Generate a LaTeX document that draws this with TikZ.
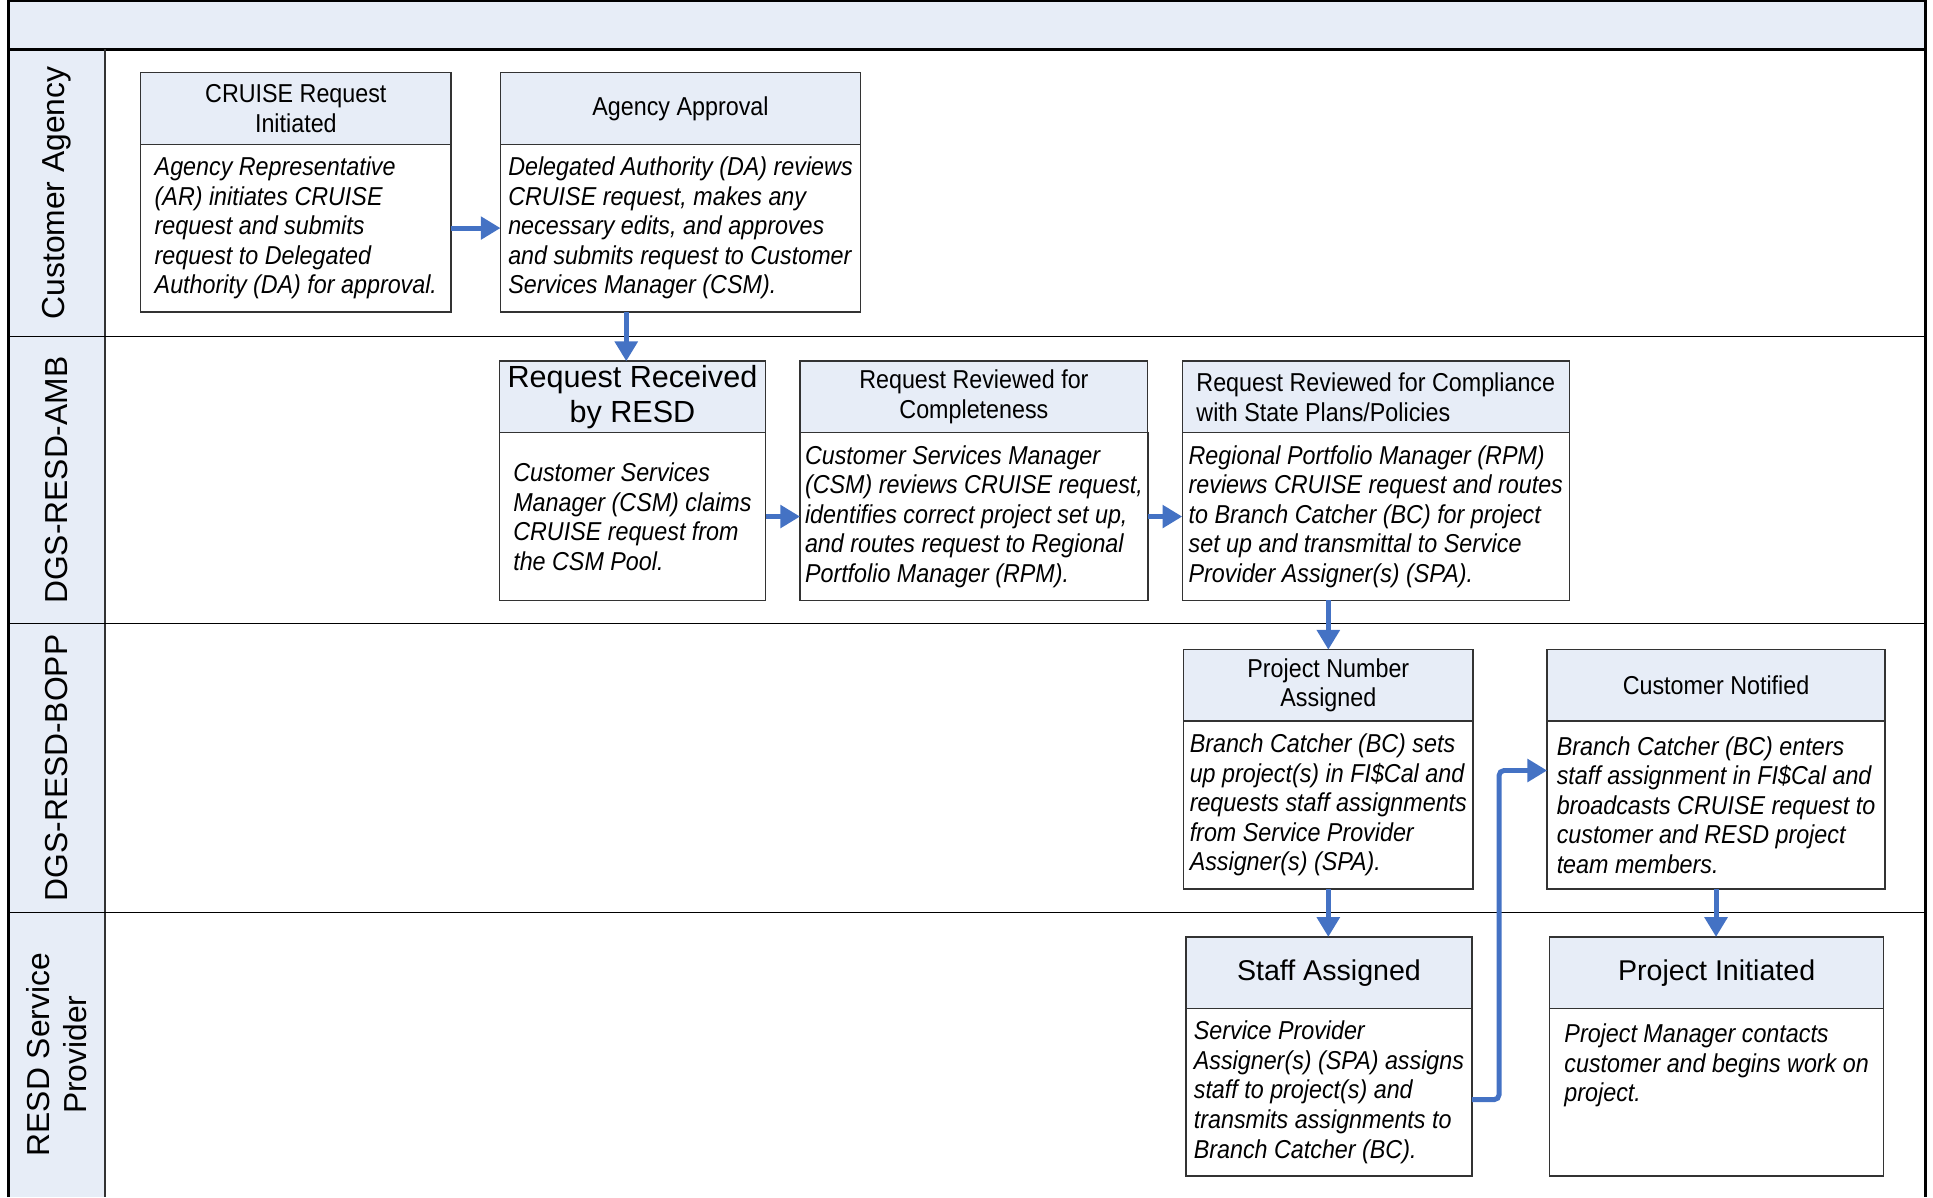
\documentclass[tikz,border=0pt]{standalone}
\usepackage{fontspec}
\setmainfont{Liberation Sans}
\newfontfamily\narrowsf{Liberation Sans}[FakeStretch=0.9]
\usetikzlibrary{positioning,arrows.meta}
\definecolor{headblue}{RGB}{231,237,247}
\definecolor{flowblue}{RGB}{68,114,196}
\tikzset{
  boxhead/.style={draw=black!80, line width=0.6pt, fill=headblue, anchor=north west, outer sep=0pt,
    minimum width=#1, minimum height=29pt, inner xsep=2pt, inner ysep=1pt, align=center,
    font=\narrowsf\fontsize{10.5}{12}\selectfont},
  boxbody/.style={draw=black!80, line width=0.6pt, fill=white, anchor=north west, outer sep=0pt,
    minimum width=#1, minimum height=68pt, inner xsep=2pt, align=left,
    font=\narrowsf\itshape\fontsize{10.5}{12}\selectfont},
  bigtitle/.style={font=\fontsize{#1}{14}\selectfont},
  lanelabel/.style={rotate=90, align=center, font=\fontsize{12.9}{15}\selectfont},
  flow/.style={draw=flowblue, line width=2pt, -{Triangle[length=8pt,width=9pt]}},
}
\begin{document}
\begin{tikzpicture}[x=0.5pt,y=-0.5pt]
  \useasboundingbox (0,0) rectangle (1568,971);

  % swim lanes
  \fill[headblue] (7,40) rectangle (85,971);
  \filldraw[fill=headblue, draw=black, line width=1pt] (7,1) rectangle (1562,40);
  \draw[black, line width=1.2pt] (7,40) -- (1562,40);
  \draw[black!80, line width=0.8pt] (85,40) -- (85,971);
  \draw[line width=0.5pt] (7,273) -- (1562,273);
  \draw[line width=0.5pt] (7,506) -- (1562,506);
  \draw[line width=0.5pt] (7,740) -- (1562,740);
  \draw[line width=1pt] (7,971) -- (7,1) -- (1562,1) -- (1562,971);

  \node[lanelabel] (agencyLane) at (46,156.5) {Customer Agency};
  \node[lanelabel] (ambLane) at (46,389.5) {DGS-RESD-AMB};
  \node[lanelabel] (boppLane) at (46,623) {DGS-RESD-BOPP};
  \node[lanelabel] (providerLane) at (46,855.5) {RESD Service\\Provider};

  % customer agency
  \node[boxhead=126pt] (initH) at (114,59) {CRUISE Request\\Initiated};
  \node[boxbody=126pt] (init) at (initH.south west) {Agency Representative\\(AR) initiates CRUISE\\request and submits\\request to Delegated\\Authority (DA) for approval.};
  \node[boxhead=146pt] (approveH) at (406,59) {Agency Approval};
  \node[boxbody=146pt] (approve) at (approveH.south west) {Delegated Authority (DA) reviews\\CRUISE request, makes any\\necessary edits, and approves\\and submits request to Customer\\Services Manager (CSM).};

  % DGS-RESD-AMB
  \node[boxhead=108pt, bigtitle=12.4] (recvH) at (405,293) {Request Received\\by RESD};
  \node[boxbody=108pt] (recv) at (recvH.south west) {Customer Services\\Manager (CSM) claims\\CRUISE request from\\the CSM Pool.};
  \node[boxhead=141pt] (reviewH) at (649,293) {Request Reviewed for\\Completeness};
  \node[boxbody=141pt] (review) at (reviewH.south west) {Customer Services Manager\\(CSM) reviews CRUISE request,\\identifies correct project set up,\\and routes request to Regional\\Portfolio Manager (RPM).};
  \node[boxhead=157pt, align=left] (complyH) at (959,293) {Request Reviewed for Compliance\\with State Plans/Policies};
  \node[boxbody=157pt] (comply) at (complyH.south west) {Regional Portfolio Manager (RPM)\\reviews CRUISE request and routes\\to Branch Catcher (BC) for project\\set up and transmittal to Service\\Provider Assigner(s) (SPA).};

  % DGS-RESD-BOPP
  \node[boxhead=117.5pt] (projnumH) at (960,527) {Project Number\\Assigned};
  \node[boxbody=117.5pt] (projnum) at (projnumH.south west) {Branch Catcher (BC) sets\\up project(s) in FI\$Cal and\\requests staff assignments\\from Service Provider\\Assigner(s) (SPA).};
  \node[boxhead=137pt] (notifyH) at (1255,527) {Customer Notified};
  \node[boxbody=137pt] (notify) at (notifyH.south west) {Branch Catcher (BC) enters\\staff assignment in FI\$Cal and\\broadcasts CRUISE request to\\customer and RESD project\\team members.};

  % RESD service provider
  \node[boxhead=116pt, bigtitle=11.6] (staffH) at (962,760) {Staff Assigned};
  \node[boxbody=116pt] (staff) at (staffH.south west) {Service Provider\\Assigner(s) (SPA) assigns\\staff to project(s) and\\transmits assignments to\\Branch Catcher (BC).};
  \node[boxhead=135.5pt, bigtitle=11.6] (initiateH) at (1257,760) {Project Initiated};
  \node[boxbody=135.5pt] (initiate) at (initiateH.south west) {Project Manager contacts\\customer and begins work on\\project.\\ ~\\ ~};

  % flow
  \draw[flow] (init.east) -- (approve.west);
  \draw[flow] ([xshift=-2.5pt]approve.south -| recvH.north) -- ([xshift=-2.5pt]recvH.north);
  \draw[flow] (recv.east) -- (review.west);
  \draw[flow] (review.east) -- (comply.west);
  \draw[flow] (comply.south -| projnumH.north) -- (projnumH.north);
  \draw[flow] (projnum.south) -- (projnum.south |- staffH.north);
  \draw[flow, rounded corners=2pt] ([yshift=-3pt]staff.east) -- ++(11pt,0) |- ([yshift=14pt]notify.west);
  \draw[flow] (notify.south) -- (notify.south |- initiateH.north);
\end{tikzpicture}
\end{document}
